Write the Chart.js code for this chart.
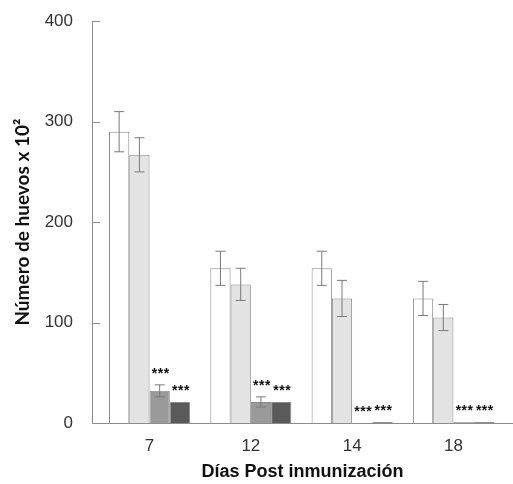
<!DOCTYPE html>
<html lang="es">
<head>
  <meta charset="UTF-8">
  <title>Número de huevos</title>
  <script src="https://cdn.jsdelivr.net/npm/chart.js"></script>
  <style>
    body {
      margin: 0;
      background: #fff;
    }
    canvas {
      display: block;
    }
  </style>
</head>
<body>
  <canvas id="huevosChart" width="513" height="484"></canvas>

  <script>
    // dias post inmunizacion
    const dias = ['7', '12', '14', '18'];

    // cuatro grupos, media y error
    const grupo1 = [290, 154, 154, 124];
    const error1 = [20, 17, 17, 17];
    const grupo2 = [267, 138, 124, 105];
    const error2 = [17, 16, 18, 13];
    const grupo3 = [32, 21, 0, 1];
    const error3 = [6, 5, 0, 0];
    const grupo4 = [21, 21, 1, 1];
    const error4 = [0, 0, 0, 0];

    // significancia
    const signif3 = ['***', '***', '***', '***'];
    const signif4 = ['***', '***', '***', '***'];

    const yTicks = [0, 100, 200, 300, 400];

    const ejeColor = '#8c8c8c';

    function puntos(valores) {
      return valores.map((v, i) => ({ x: i, y: v }));
    }

    const errorBars = {
      id: 'errorBars',
      afterDatasetsDraw(chart) {
        const ctx = chart.ctx;
        const y = chart.scales.y;
        ctx.save();
        chart.data.datasets.forEach((ds, di) => {
          const meta = chart.getDatasetMeta(di);
          meta.data.forEach((bar, i) => {
            const v = ds.data[i].y;
            const e = ds.errores[i];
            if (e > 0) {
              const top = y.getPixelForValue(v + e);
              const bot = y.getPixelForValue(v - e);
              ctx.strokeStyle = '#7a7a7a';
              ctx.lineWidth = 1;
              ctx.beginPath();
              ctx.moveTo(bar.x, top);
              ctx.lineTo(bar.x, bot);
              ctx.moveTo(bar.x - 5, top);
              ctx.lineTo(bar.x + 5, top);
              ctx.moveTo(bar.x - 5, bot);
              ctx.lineTo(bar.x + 5, bot);
              ctx.stroke();
            }
            if (ds.signif) {
              ctx.fillStyle = '#111';
              ctx.font = 'bold 14px Arial';
              ctx.letterSpacing = '0.5px';
              ctx.textAlign = 'center';
              ctx.textBaseline = 'middle';
              ctx.fillText(ds.signif[i], bar.x + 1, y.getPixelForValue(v + e) - 11);
            }
          });
        });
        ctx.restore();
      },
      afterDraw(chart) {
        // marcas del eje y hacia dentro
        const ctx = chart.ctx;
        const y = chart.scales.y;
        const left = chart.chartArea.left;
        ctx.save();
        ctx.strokeStyle = ejeColor;
        ctx.lineWidth = 1;
        ctx.beginPath();
        y.ticks.forEach(t => {
          const py = Math.round(y.getPixelForValue(t.value)) + 0.5;
          ctx.moveTo(left, py);
          ctx.lineTo(left + 8, py);
        });
        ctx.stroke();
        ctx.restore();
      }
    };

    Chart.defaults.font.family = 'Arial, "Liberation Sans", sans-serif';
    Chart.defaults.color = '#333';

    new Chart(document.getElementById('huevosChart'), {
      type: 'bar',
      data: {
        datasets: [
          { data: puntos(grupo1), errores: error1, backgroundColor: '#ffffff' },
          { data: puntos(grupo2), errores: error2, backgroundColor: '#e3e3e3' },
          { data: puntos(grupo3), errores: error3, backgroundColor: '#9a9a9a', signif: signif3 },
          { data: puntos(grupo4), errores: error4, backgroundColor: '#5a5a5a', signif: signif4 }
        ]
      },
      options: {
        responsive: false,
        animation: false,
        categoryPercentage: 0.8,
        barPercentage: 1.0,
        borderWidth: 1,
        borderColor: '#8a8a8a',
        layout: { padding: { top: 12, right: 0, left: 0, bottom: 0 } },
        plugins: {
          legend: { display: false },
          tooltip: { enabled: false }
        },
        scales: {
          x: {
            type: 'linear',
            min: -0.568,
            max: 3.588,
            offset: false,
            grid: { display: false },
            border: { color: ejeColor, width: 1 },
            afterBuildTicks: scale => {
              scale.ticks = dias.map((_, i) => ({ value: i }));
            },
            afterFit: scale => { scale.height = 61; },
            ticks: {
              font: { size: 17 },
              padding: 5,
              callback: v => dias[v]
            },
            title: {
              display: true,
              text: 'Días Post inmunización',
              color: '#111',
              font: { size: 18, weight: 'bold' },
              padding: { top: 0, bottom: 1 }
            }
          },
          y: {
            min: 0,
            max: 400,
            grid: { display: false },
            border: { color: ejeColor, width: 1 },
            afterBuildTicks: scale => {
              scale.ticks = yTicks.map(v => ({ value: v }));
            },
            afterFit: scale => { scale.width = 92; },
            ticks: {
              font: { size: 17 },
              padding: 11
            },
            title: {
              display: true,
              text: 'Número de huevos x 10²',
              color: '#111',
              font: { family: 'Lato', size: 19, weight: 'bold' },
              padding: { top: 11, bottom: 0 }
            }
          }
        }
      },
      plugins: [errorBars]
    });
  </script>
</body>
</html>
